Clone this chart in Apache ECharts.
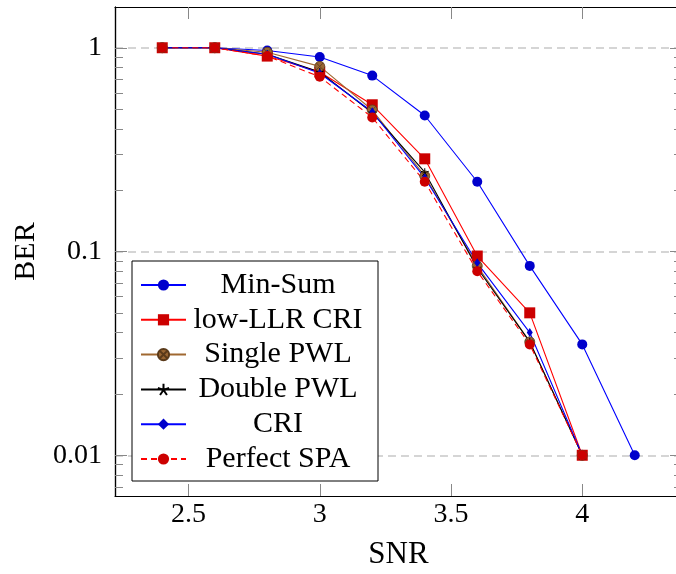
<!DOCTYPE html>
<html lang="en">
<head>
    <meta charset="UTF-8">
    <title>BER vs SNR</title>
    <script src="https://cdn.jsdelivr.net/npm/echarts@6/dist/echarts.min.js"></script>
    <style>
        html, body { margin: 0; padding: 0; background: #fff; }
    </style>
</head>
<body>
<div id='box' style="width: 676px;height:574px;"></div>
<script>
    // data
    var snr = [2.4, 2.6, 2.8, 3.0, 3.2, 3.4, 3.6, 3.8, 4.0, 4.2];
    var minSum = [1, 1, 0.97, 0.9, 0.73, 0.465, 0.22, 0.085, 0.035, 0.01];
    var lowLlrCri = [1, 1, 0.91, 0.76, 0.525, 0.285, 0.095, 0.05, 0.01];
    var singlePwl = [1, 1, 0.95, 0.81, 0.495, 0.235, 0.085, 0.036, 0.01];
    var doublePwl = [1, 1, 0.93, 0.76, 0.48, 0.245, 0.083, 0.036, 0.01];
    var cri = [1, 1, 0.93, 0.75, 0.485, 0.23, 0.088, 0.04, 0.01];
    var perfectSpa = [1, 1, 0.91, 0.72, 0.455, 0.22, 0.08, 0.035, 0.01];

    var xTicks = [2.5, 3, 3.5, 4];
    var yTickLabels = ['0.01', '0.1', '1'];
    var yTicks = [-2, -1, 0];   // log10 of the labels

    var font = "'Liberation Serif', 'DejaVu Serif', serif";

    // minor ticks of the log axis (2..9 x 10^e)
    var yMinor = [];
    for (var e = -3; e <= 0; e++) {
        for (var k = 2; k <= 9; k++) {
            var lv = Math.log10(k) + e;
            if (lv > -2.2 && lv < 0.2) yMinor.push(lv);
        }
    }

    function toPts(arr) {
        return arr.map(function (v, i) { return [snr[i], Math.log10(v)]; });
    }

    var starPath = 'path://M0,0L0,-5M0,0L4.76,-1.55M0,0L2.94,4.05M0,0L-2.94,4.05M0,0L-4.76,-1.55';
    var otimesPath = 'path://M0,-10A10,10,0,1,1,0,10A10,10,0,1,1,0,-10ZM-7.07,-7.07L7.07,7.07M7.07,-7.07L-7.07,7.07';

    var myChart = echarts.init(document.getElementById('box'));

    function xAx(pos, labels) {
        return {
            type: 'value', position: pos, min: 2.22, max: 4.38,
            axisLine: { show: true, onZero: false, lineStyle: { color: '#000', width: 1.2 } },
            axisTick: { show: true, inside: true, length: 12, customValues: xTicks, lineStyle: { color: '#888', width: 1 } },
            axisLabel: {
                show: labels, customValues: xTicks, margin: 5, color: '#000',
                fontFamily: font, fontSize: 28, lineHeight: 28
            },
            splitLine: { show: false },
            name: labels ? 'SNR' : '', nameLocation: 'middle', nameGap: 43,
            nameTextStyle: { fontFamily: font, fontSize: 31, color: '#000', lineHeight: 32 }
        };
    }

    function yAx(pos, major, labels) {
        return {
            type: 'value', position: pos, min: -2.2, max: 0.2,
            axisLine: { show: true, onZero: false, lineStyle: { color: '#000', width: 1.2 } },
            axisTick: {
                show: true, inside: true, length: major ? 12 : 8,
                customValues: major ? yTicks : yMinor, lineStyle: { color: '#888', width: 1 }
            },
            axisLabel: {
                show: labels, customValues: yTicks, margin: 13, color: '#000',
                fontFamily: font, fontSize: 28, lineHeight: 28,
                formatter: function (v) { return yTickLabels[yTicks.indexOf(Math.round(v))]; }
            },
            splitLine: {
                show: labels,
                lineStyle: { color: '#c8c8c8', width: 1.5, type: [8, 5] }
            },
            name: labels ? 'BER' : '', nameLocation: 'middle', nameGap: 71, nameRotate: 90,
            nameTextStyle: { fontFamily: font, fontSize: 30, color: '#000', lineHeight: 31 }
        };
    }

    function line(name, arr, lineColor, symbol, size, itemStyle, dashed) {
        return {
            name: name, type: 'line', data: toPts(arr),
            symbol: symbol, symbolSize: size, showAllSymbol: true,
            lineStyle: { color: lineColor, width: 1.1, type: dashed ? [6, 4] : 'solid' },
            itemStyle: itemStyle,
            emphasis: { disabled: true },
            animation: false
        };
    }

    var option = {
        backgroundColor: '#fff',
        animation: false,
        grid: { left: 115, right: -6, top: 7, bottom: 78, outerBoundsMode: 'none', containLabel: false },
        xAxis: [xAx('bottom', true), xAx('top', false)],
        yAxis: [yAx('left', true, true), yAx('left', false, false), yAx('right', true, false), yAx('right', false, false)],
        legend: {
            orient: 'vertical', left: 132, top: 261,
            padding: [9, 13, 7, 8], itemGap: 4.8,
            itemWidth: 45, itemHeight: 14,
            backgroundColor: '#fff', borderColor: '#000', borderWidth: 1, borderRadius: 0,
            formatter: function (n) { return '{c|' + n + '}'; },
            textStyle: {
                fontFamily: font, fontSize: 30, color: '#000', lineHeight: 30,
                rich: { c: { width: 174, align: 'center', fontFamily: font, fontSize: 30, lineHeight: 30, color: '#000' } }
            },
            data: ['Min-Sum', 'low-LLR CRI', 'Single PWL', 'Double PWL', 'CRI', 'Perfect SPA']
        },
        series: [
            line('Min-Sum', minSum, '#0000ff', 'circle', 10, { color: '#0000cc' }),
            line('low-LLR CRI', lowLlrCri, '#ff0000', 'rect', 11, { color: '#cc0000' }),
            line('Single PWL', singlePwl, '#a06830', otimesPath, 10, { color: '#996633', borderColor: '#5a3a1a', borderWidth: 0.8 }),
            line('Double PWL', doublePwl, '#000000', starPath, 8, { color: 'none', borderColor: '#000', borderWidth: 1 }),
            line('CRI', cri, '#0000ff', 'diamond', [6, 9], { color: '#0000cc' }),
            line('Perfect SPA', perfectSpa, '#ff0000', 'circle', 10, { color: '#cc0000' }, true)
        ]
    };
    myChart.setOption(option);
</script>
</body>
</html>
